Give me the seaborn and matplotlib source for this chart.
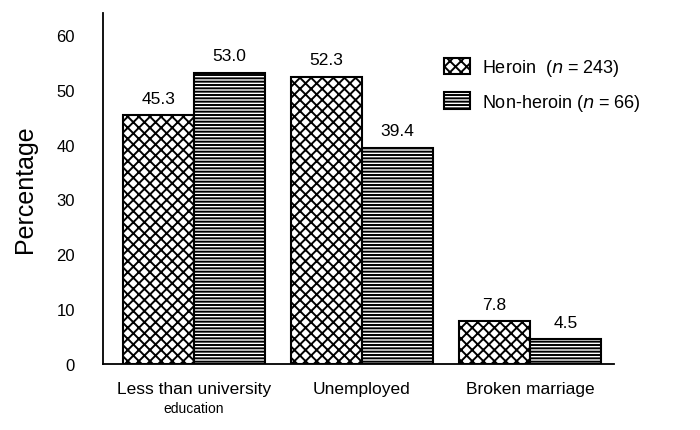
import numpy as np
import pandas as pd
import seaborn as sns
import matplotlib.pyplot as plt

categories = ['Less than university', 'Unemployed', 'Broken marriage']
groups = ['Heroin', 'Non-heroin']
heroin = [45.3, 52.3, 7.8]
non_heroin = [53.0, 39.4, 4.5]
legend_labels = ['Heroin  ($n$ = 243)', 'Non-heroin ($n$ = 66)']

df = pd.DataFrame({
    'category': categories * 2,
    'group': [groups[0]] * 3 + [groups[1]] * 3,
    'pct': heroin + non_heroin,
})

sns.set_style('white')
plt.rcParams['font.family'] = ['Liberation Sans', 'DejaVu Sans']
plt.rcParams['hatch.linewidth'] = 1.4
plt.rcParams['text.color'] = 'black'
plt.rcParams['xtick.color'] = 'black'
plt.rcParams['ytick.color'] = 'black'
plt.rcParams['axes.labelcolor'] = 'black'

fig = plt.figure(figsize=(7, 4.31), dpi=100)
ax = fig.add_axes([0.147, 0.153, 0.73, 0.815])
sns.barplot(data=df, x='category', y='pct', hue='group', hue_order=groups,
            order=categories, palette=['white', 'white'], width=0.845,
            edgecolor='black', linewidth=1.5, ax=ax, legend=False)

hatches = ['xxx', '-----']
for cont, h, lab in zip(ax.containers, hatches, legend_labels):
    for bar in cont:
        bar.set_hatch(h)
    cont.set_label(lab)
    ax.bar_label(cont, fmt='%.1f', padding=7, fontsize=12.5)

ax.set_ylim(0, 64)
ax.set_xlim(-0.54, 2.5)
ax.set_yticks(range(0, 61, 10))
ax.tick_params(axis='y', labelsize=12, length=0, pad=20)
ax.tick_params(axis='x', labelsize=12.5, length=0, pad=12)
ax.set_xlabel('')
ax.set_ylabel('Percentage', fontsize=18, labelpad=14)
ax.text(0, -0.105, 'education', transform=ax.get_xaxis_transform(),
        ha='center', va='top', fontsize=10)
for s in ['top', 'right']:
    ax.spines[s].set_visible(False)
ax.spines['left'].set_linewidth(1.3)
ax.spines['bottom'].set_linewidth(1.3)
ax.spines['left'].set_color('black')
ax.spines['bottom'].set_color('black')

ax.legend(loc='upper right', bbox_to_anchor=(1.085, 0.92), frameon=False,
          fontsize=13, handlelength=1.4, handleheight=1.0, handletextpad=0.7,
          labelspacing=0.75)

fig.savefig('out.png', dpi=100)
